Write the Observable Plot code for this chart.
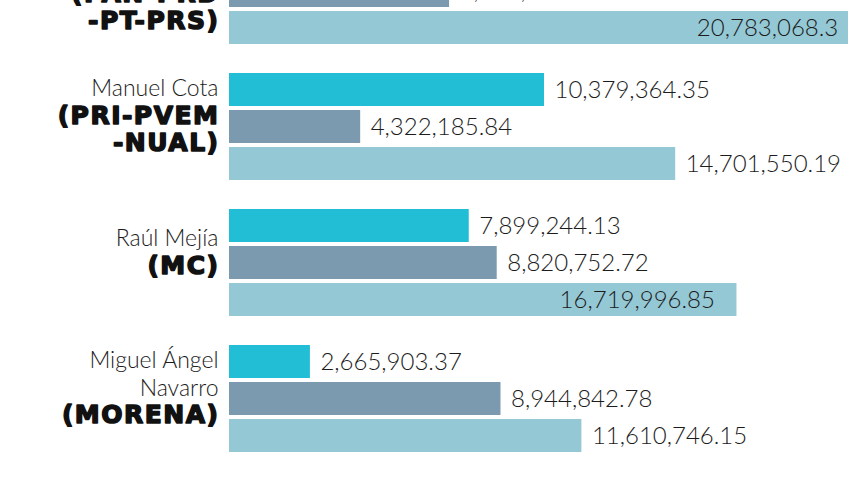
<!DOCTYPE html>
<html>
<head>
<meta charset="utf-8">
<script src="https://cdn.jsdelivr.net/npm/d3@7"></script>
<script src="https://cdn.jsdelivr.net/npm/@observablehq/plot@0.6"></script>
<style>
  html, body { margin: 0; padding: 0; background: #fff; overflow: hidden; }
  #chart svg { display: block; }
  g[font-weight="900"] text { letter-spacing: 1.5px; }
</style>
</head>
<body>
<div id="chart"></div>
<script>
// Candidates (top group is partly cut off in the reference)
const candidates = ["Antonio Echevarría", "Manuel Cota", "Raúl Mejía", "Miguel Ángel Navarro"];
const nameLines = ["Antonio\nEchevarría", "Manuel Cota", "Raúl Mejía", "Miguel Ángel\nNavarro"];
const parties = ["(PAN-PRD\n-PT-PRS)", "(PRI-PVEM\n-NUAL)", "(MC)", "(MORENA)"];

// Series (three bars per candidate)
const seriesKeys = ["s1", "s2", "total"];
const series1 = [13531822.18, 10379364.35, 7899244.13, 2665903.37];
const series2 = [7251246.12, 4322185.84, 8820752.72, 8944842.78];
const totals = [20783068.3, 14701550.19, 16719996.85, 11610746.15];
const seriesColors = ["#21bed6", "#7b9ab0", "#94c8d5"];

const insideThreshold = 15000000; // totals longer than this carry their label inside the bar

const rows = [];
candidates.forEach((c, i) => {
  rows.push({cand: c, series: "s1", value: series1[i]});
  rows.push({cand: c, series: "s2", value: series2[i]});
  rows.push({cand: c, series: "total", value: totals[i]});
});
const isInside = d => d.series === "total" && d.value > insideThreshold;

const labels = candidates.map((c, i) => {
  const nName = nameLines[i].split("\n").length;
  const nParty = parties[i].split("\n").length;
  return {
    cand: c,
    name: nameLines[i] + "\n".repeat(nParty),
    party: "\n".repeat(nName) + parties[i]
  };
});

const fmt = d3.format(",");
const LINE = 27.5;

const chart = Plot.plot({
  width: 848,
  height: 477,
  marginTop: 0, marginBottom: 0, marginLeft: 0, marginRight: 0,
  style: {background: "#fff"},
  x: {domain: [0, 21000000], range: [229, 229 + 21 * 30.35], axis: null},
  y: {domain: seriesKeys, range: [0, 108.4], paddingInner: 0.12, paddingOuter: 0, axis: null},
  fy: {domain: candidates, range: [-64, 452.7], paddingInner: 0.205, paddingOuter: 0, axis: null},
  color: {domain: seriesKeys, range: seriesColors},
  marks: [
    Plot.barX(rows, {x: "value", y: "series", fy: "cand", fill: "series"}),
    Plot.text(rows.filter(d => !isInside(d)), {
      x: "value", y: "series", fy: "cand", text: d => fmt(d.value),
      textAnchor: "start", dx: 10, fontSize: 24, fontFamily: "Lato", fontWeight: 300, fill: "#1c1c1c"
    }),
    Plot.text(rows.filter(isInside), {
      x: "value", y: "series", fy: "cand", text: d => fmt(d.value),
      textAnchor: "end", dx: -22, fontSize: 24, fontFamily: "Lato", fontWeight: 300, fill: "#1c1c1c"
    }),
    Plot.text(labels, {
      x: () => 0, y: () => "s2", fy: "cand", text: "name",
      textAnchor: "end", dx: -11, dy: -12, fontSize: 23, lineHeight: LINE / 23,
      fontFamily: "Lato", fontWeight: 300, fill: "#1c1c1c"
    }),
    Plot.text(labels, {
      x: () => 0, y: () => "s2", fy: "cand", text: "party",
      textAnchor: "end", dx: -10, dy: -12, fontSize: 25, lineHeight: LINE / 25,
      fontFamily: "DejaVu Sans", fontWeight: 900, fill: "#111",
      stroke: "#111", strokeWidth: 1.5
    })
  ]
});
document.getElementById("chart").appendChild(chart);
</script>
</body>
</html>
